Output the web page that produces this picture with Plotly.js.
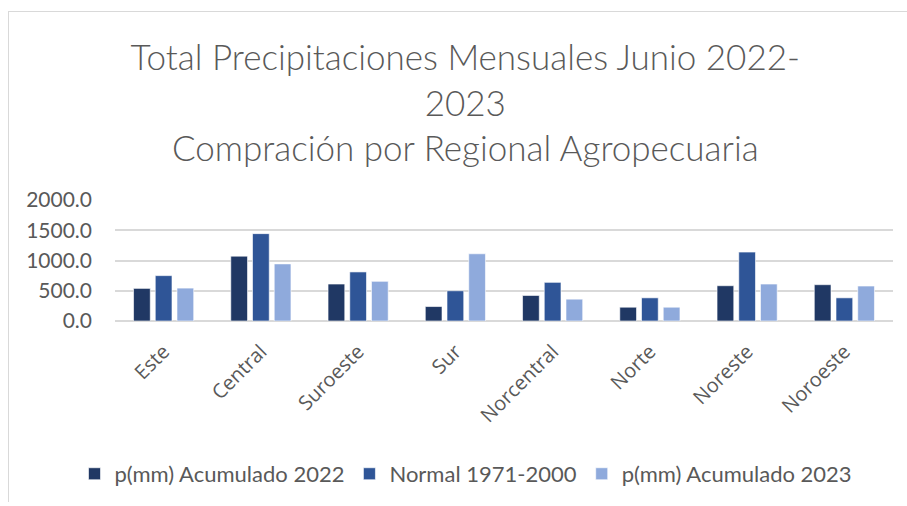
<!DOCTYPE html>
<html>
<head>
<meta charset="utf-8">
<script src="https://cdn.plot.ly/plotly-3.0.1.min.js"></script>
<style>
html,body{margin:0;padding:0;background:#fff;}
#chart{width:907px;height:506px;}
#frame{position:absolute;left:8px;top:11px;width:905px;height:490px;border-left:1px solid #d9d9d9;border-top:1px solid #d9d9d9;pointer-events:none;}
</style>
</head>
<body>
<div id="chart"></div>
<div id="frame"></div>
<script>
const categories = ["Este","Central","Suroeste","Sur","Norcentral","Norte","Noreste","Noroeste"];
const acumulado2022 = [539, 1072, 611, 239, 422, 228, 583, 600];
const normal19712000 = [750, 1444, 811, 500, 639, 383, 1139, 383];
const acumulado2023 = [544, 944, 656, 1111, 361, 228, 611, 578];
const yTicks = [0, 500, 1000, 1500, 2000];
const yTickLabels = ["0.0","500.0","1000.0","1500.0","2000.0"];

const seriesNames = ["p(mm) Acumulado 2022","Normal 1971-2000","p(mm) Acumulado 2023"];
const seriesColors = ["#203864","#2F5597","#8FAADC"];
const seriesValues = [acumulado2022, normal19712000, acumulado2023];

const traces = seriesValues.map((vals, i) => ({
  type: "bar",
  name: seriesNames[i],
  x: categories,
  y: vals,
  marker: {color: seriesColors[i], line: {color: "rgba(255,255,255,0.6)", width: 1}},
  hoverinfo: "x+y+name"
}));

const ML = 20, MR = 14;
const plotW = 907 - ML - MR;

const layout = {
  width: 907,
  height: 506,
  paper_bgcolor: "#ffffff",
  plot_bgcolor: "#ffffff",
  margin: {l: ML, r: MR, t: 200, b: 185},
  barmode: "group",
  bargap: 0.33,
  bargroupgap: 0.23,
  title: {
    text: "Total Precipitaciones Mensuales Junio 2022-<br>2023<br>Compración por Regional Agropecuaria",
    font: {family: "Lato, 'Open Sans', sans-serif", size: 35, weight: 300, color: "#595959"},
    x: 0.513,
    xanchor: "center",
    y: 0.861,
    yanchor: "middle"
  },
  xaxis: {
    type: "category",
    domain: [(115 - ML) / plotW, 1],
    automargin: false,
    tickangle: -45,
    tickfont: {family: "'Open Sans', sans-serif", size: 20, color: "#595959"},
    showline: false,
    showgrid: false,
    ticks: "",
    zeroline: false,
    ticklabelstandoff: 14,
    fixedrange: true
  },
  yaxis: {
    range: [0, 2000],
    automargin: false,
    tickvals: yTicks,
    ticktext: yTickLabels,
    tickfont: {family: "Lato, 'Open Sans', sans-serif", size: 21, color: "#595959"},
    showgrid: true,
    gridcolor: "#d9d9d9",
    gridwidth: 1.5,
    zeroline: true,
    zerolinecolor: "#d9d9d9",
    zerolinewidth: 1.5,
    showline: false,
    ticks: "",
    ticklen: 0,
    ticklabelstandoff: 22,
    fixedrange: true
  },
  showlegend: true,
  legend: {
    orientation: "h",
    x: (466 - ML) / plotW,
    xanchor: "center",
    y: -1.264,
    yanchor: "middle",
    font: {family: "Lato, 'Open Sans', sans-serif", size: 22, color: "#595959"},
    itemwidth: 30,
    traceorder: "normal"
  }
};

Plotly.newPlot("chart", traces, layout, {displayModeBar: false, staticPlot: false});
</script>
</body>
</html>
